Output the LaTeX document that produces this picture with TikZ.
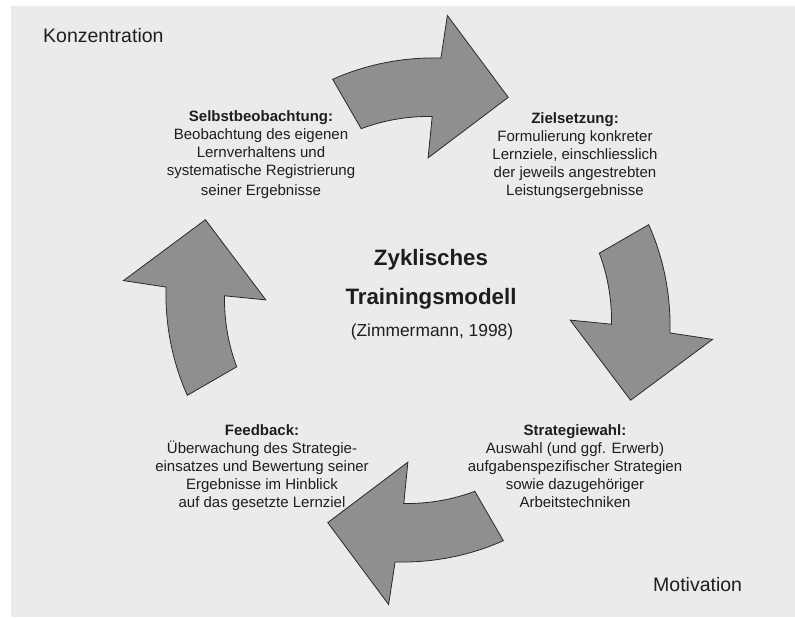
\documentclass[tikz,border=0pt]{standalone}
\usepackage{fontspec}
\setmainfont{Liberation Sans}
\definecolor{bggray}{HTML}{EBEBEB}
\definecolor{arrfill}{HTML}{8F8F8F}
\definecolor{arrline}{HTML}{2A2A2A}
\definecolor{txt}{HTML}{1E1E1E}
\tikzset{
  arr/.style={fill=arrfill, draw=arrline, line width=0.8pt, line join=miter},
  block/.style={align=center, inner sep=0pt, anchor=north, text=txt, font=\fontsize{15}{18}\selectfont},
  titletext/.style={inner sep=0pt, anchor=base, text=txt, font=\bfseries\fontsize{22.3}{26}\selectfont},
  citetext/.style={inner sep=0pt, anchor=base, text=txt, font=\fontsize{17.4}{20}\selectfont},
  cornertext/.style={inner sep=0pt, text=txt, font=\fontsize{19.5}{23}\selectfont},
  cycarrow/.pic={
    \draw[arr] (110.3:246)
      -- plot[domain=110.3:84.8, samples=30] (\x:{246+7*(110.3-\x)/25.5})
      -- (84.3:296) -- (67:231) -- (86.2:152.5) -- (85.8:194)
      -- plot[domain=85.8:107.4, samples=30] (\x:{194-4*(\x-85.8)/21.6})
      -- cycle;
  }
}
\begin{document}
\begin{tikzpicture}[x=1pt,y=1pt]
\useasboundingbox (0,0) rectangle (795,618);
\fill[white] (0,0) rectangle (795,618);
\fill[bggray] (11,1) rectangle (795,612);
\coordinate (C) at (418,308);
\pic at (C) {cycarrow};
\pic[rotate=-90] at (C) {cycarrow};
\pic[rotate=-180] at (C) {cycarrow};
\pic[rotate=-270] at (C) {cycarrow};

\node[cornertext, anchor=base west] (konz) at (43,575) {Konzentration};
\node[cornertext, anchor=base west] (moti) at (653,26) {Motivation};

\node[titletext] (t1) at (431,352) {Zyklisches};
\node[titletext] (t2) at (431,313) {Trainingsmodell};
\node[citetext] (cite) at (432,281) {(Zimmermann, 1998)};

\node[block] (selbst) at (261,508) {\textbf{Selbstbeobachtung:}\\Beobachtung des eigenen\\Lernverhaltens und\\systematische Registrierung\\[2pt]seiner Ergebnisse};
\node[block] (ziel) at (575,506) {\textbf{Zielsetzung:}\\Formulierung konkreter\\Lernziele, einschliesslich\\der jeweils angestrebten\\Leistungsergebnisse};
\node[block] (feed) at (262,194) {\textbf{Feedback:}\\Überwachung des Strategie-\\einsatzes und Bewertung seiner\\Ergebnisse im Hinblick\\auf das gesetzte Lernziel};
\node[block] (strat) at (575,194) {\textbf{Strategiewahl:}\\Auswahl (und ggf. Erwerb)\\aufgabenspezifischer Strategien\\sowie dazugehöriger\\Arbeitstechniken};
\end{tikzpicture}
\end{document}
